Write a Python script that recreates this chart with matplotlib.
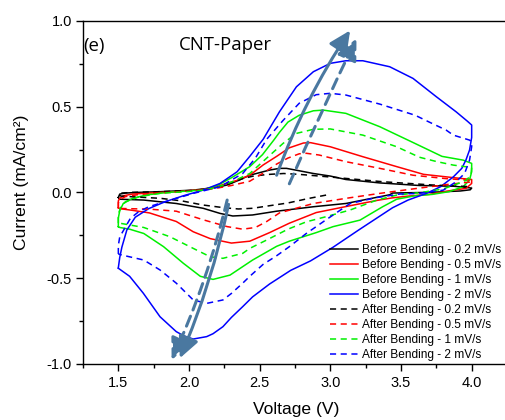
import matplotlib.pyplot as plt
from matplotlib.ticker import MultipleLocator

plt.rcParams['font.family'] = ['Liberation Sans', 'DejaVu Sans']
plt.rcParams['axes.unicode_minus'] = False

# CV loops: (voltage V, current mA/cm2)
before_02 = [(1.50, -0.03), (1.51, -0.01), (1.55, -0.004), (1.65, 0.0), (1.80, 0.004), (2.03, 0.013),
             (2.20, 0.03), (2.27, 0.043), (2.35, 0.07), (2.43, 0.10), (2.57, 0.13), (2.64, 0.14),
             (2.69, 0.14), (2.78, 0.126), (2.88, 0.11), (3.00, 0.095), (3.11, 0.075), (3.35, 0.055),
             (3.63, 0.04), (3.87, 0.036), (4.00, 0.025), (3.99, 0.015), (3.92, 0.008), (3.70, 0.0),
             (3.58, -0.002), (3.44, -0.004), (3.42, -0.014), (3.11, -0.065), (2.88, -0.084),
             (2.62, -0.11), (2.45, -0.132), (2.31, -0.138), (2.22, -0.123), (2.10, -0.093),
             (1.91, -0.065), (1.68, -0.045), (1.51, -0.04), (1.50, -0.03)]
before_05 = [(1.50, -0.09), (1.50, -0.05), (1.51, -0.035), (1.535, -0.02), (1.60, -0.01), (1.72, -0.004),
             (1.91, 0.004), (2.10, 0.017), (2.20, 0.035), (2.34, 0.07), (2.43, 0.10), (2.525, 0.16),
             (2.62, 0.21), (2.71, 0.26), (2.81, 0.288), (2.86, 0.29), (3.00, 0.266), (3.23, 0.208),
             (3.47, 0.15), (3.66, 0.105), (3.88, 0.085), (4.00, 0.075), (4.00, 0.052), (3.96, 0.023),
             (3.87, 0.013), (3.70, -0.012), (3.55, -0.022), (3.44, -0.032), (3.33, -0.047),
             (3.14, -0.078), (2.90, -0.118), (2.71, -0.18), (2.57, -0.235), (2.43, -0.285),
             (2.30, -0.296), (2.15, -0.27), (2.03, -0.23), (1.91, -0.17), (1.72, -0.12),
             (1.60, -0.105), (1.51, -0.095), (1.50, -0.09)]
before_1 = [(1.50, -0.20), (1.50, -0.15), (1.51, -0.107), (1.535, -0.065), (1.60, -0.035), (1.70, -0.015),
            (1.85, 0.0), (2.00, 0.008), (2.10, 0.015), (2.20, 0.04), (2.30, 0.085), (2.43, 0.15),
            (2.52, 0.22), (2.60, 0.305), (2.64, 0.35), (2.70, 0.41), (2.78, 0.45), (2.88, 0.476),
            (2.95, 0.48), (3.11, 0.461), (3.35, 0.383), (3.60, 0.285), (3.79, 0.21), (3.94, 0.188),
            (4.00, 0.169), (4.00, 0.12), (3.985, 0.072), (3.94, 0.033), (3.84, 0.004), (3.72, -0.012),
            (3.60, -0.02), (3.47, -0.04), (3.37, -0.084), (3.21, -0.162), (3.02, -0.20),
            (2.90, -0.235), (2.71, -0.285), (2.62, -0.315), (2.45, -0.395), (2.29, -0.483),
            (2.17, -0.508), (2.08, -0.49), (1.96, -0.414), (1.82, -0.317), (1.68, -0.24),
            (1.58, -0.215), (1.51, -0.205), (1.50, -0.20)]
before_2 = [(1.50, -0.44), (1.51, -0.38), (1.525, -0.32), (1.56, -0.22), (1.62, -0.145), (1.715, -0.095),
            (1.83, -0.055), (1.96, -0.02), (2.10, 0.013), (2.22, 0.052), (2.34, 0.12), (2.43, 0.21),
            (2.525, 0.31), (2.64, 0.47), (2.76, 0.616), (2.88, 0.704), (3.00, 0.753), (3.11, 0.768),
            (3.23, 0.768), (3.42, 0.733), (3.585, 0.665), (3.75, 0.558), (3.89, 0.47), (3.97, 0.415),
            (4.00, 0.393), (4.00, 0.32), (3.985, 0.247), (3.96, 0.19), (3.93, 0.14), (3.87, 0.09),
            (3.78, 0.033), (3.68, -0.006), (3.55, -0.045), (3.44, -0.09), (3.32, -0.155),
            (3.20, -0.22), (3.02, -0.32), (2.86, -0.40), (2.72, -0.455), (2.57, -0.535),
            (2.45, -0.61), (2.38, -0.667), (2.30, -0.73), (2.24, -0.784), (2.17, -0.825),
            (2.125, -0.842), (2.03, -0.856), (1.97, -0.84), (1.91, -0.813), (1.795, -0.726),
            (1.677, -0.589), (1.58, -0.49), (1.50, -0.443)]
after_02 = [(2.97, -0.016), (2.85, -0.035), (2.70, -0.062), (2.57, -0.078), (2.45, -0.093), (2.35, -0.097),
            (2.25, -0.09), (2.10, -0.074), (1.95, -0.05), (1.80, -0.035), (1.65, -0.028), (1.52, -0.022),
            (1.50, -0.015), (1.51, -0.005), (1.60, 0.0), (1.80, 0.004), (2.00, 0.01), (2.15, 0.02),
            (2.22, 0.033), (2.30, 0.055), (2.38, 0.08), (2.45, 0.094), (2.55, 0.104), (2.67, 0.11),
            (2.78, 0.105), (3.02, 0.088), (3.37, 0.062), (3.72, 0.043), (4.00, 0.033)]
after_05 = [(1.50, -0.09), (1.50, -0.06), (1.515, -0.04), (1.55, -0.025), (1.65, -0.012), (1.80, -0.003),
            (2.00, 0.007), (2.20, 0.025), (2.30, 0.04), (2.43, 0.065), (2.52, 0.11), (2.62, 0.165),
            (2.70, 0.20), (2.78, 0.225), (2.83, 0.228), (2.92, 0.218), (3.11, 0.179), (3.35, 0.14),
            (3.585, 0.10), (3.82, 0.08), (4.00, 0.07), (3.985, 0.06), (3.82, 0.045), (3.585, 0.02),
            (3.35, -0.006), (3.11, -0.035), (2.88, -0.065), (2.64, -0.12), (2.55, -0.17),
            (2.47, -0.205), (2.38, -0.215), (2.27, -0.20), (2.10, -0.16), (1.91, -0.11),
            (1.72, -0.098), (1.51, -0.094), (1.50, -0.09)]
after_1 = [(1.50, -0.18), (1.50, -0.13), (1.515, -0.09), (1.55, -0.055), (1.65, -0.025), (1.80, -0.005),
           (2.00, 0.005), (2.10, 0.013), (2.20, 0.03), (2.30, 0.06), (2.43, 0.11), (2.55, 0.20),
           (2.666, 0.286), (2.76, 0.344), (2.88, 0.368), (3.00, 0.37), (3.23, 0.334), (3.47, 0.266),
           (3.63, 0.205), (3.75, 0.18), (3.87, 0.159), (4.00, 0.145), (3.995, 0.10), (3.96, 0.07),
           (3.915, 0.055), (3.80, 0.02), (3.65, 0.0), (3.47, -0.016), (3.33, -0.045), (3.14, -0.103),
           (2.97, -0.142), (2.83, -0.172), (2.70, -0.215), (2.55, -0.278), (2.43, -0.327),
           (2.38, -0.356), (2.24, -0.385), (2.15, -0.376), (2.03, -0.327), (1.865, -0.259),
           (1.68, -0.205), (1.51, -0.18), (1.50, -0.18)]
after_2 = [(1.50, -0.36), (1.50, -0.31), (1.51, -0.26), (1.538, -0.22), (1.585, -0.152), (1.644, -0.113),
           (1.715, -0.084), (1.81, -0.06), (2.03, -0.006), (2.22, 0.033), (2.38, 0.11), (2.47, 0.20),
           (2.55, 0.31), (2.666, 0.42), (2.78, 0.52), (2.90, 0.57), (3.00, 0.578), (3.11, 0.568),
           (3.35, 0.515), (3.60, 0.45), (3.70, 0.41), (3.82, 0.363), (3.87, 0.334), (3.985, 0.305),
           (4.00, 0.295), (4.00, 0.266), (3.985, 0.188), (3.95, 0.11), (3.89, 0.062), (3.80, 0.013),
           (3.63, -0.006), (3.49, -0.01), (3.33, -0.03), (3.14, -0.065), (2.97, -0.16),
           (2.83, -0.24), (2.71, -0.317), (2.62, -0.37), (2.525, -0.42), (2.43, -0.49),
           (2.38, -0.53), (2.30, -0.59), (2.24, -0.628), (2.125, -0.648), (2.03, -0.628),
           (1.91, -0.53), (1.795, -0.453), (1.68, -0.395), (1.60, -0.38), (1.526, -0.366),
           (1.50, -0.36)]

curves = [
    ('Before Bending - 0.2 mV/s', before_02, 'black', '-'),
    ('Before Bending - 0.5 mV/s', before_05, '#ff0000', '-'),
    ('Before Bending - 1 mV/s', before_1, '#00f000', '-'),
    ('Before Bending - 2 mV/s', before_2, '#0000ff', '-'),
    ('After Bending - 0.2 mV/s', after_02, 'black', '--'),
    ('After Bending - 0.5 mV/s', after_05, '#ff0000', '--'),
    ('After Bending - 1 mV/s', after_1, '#00f000', '--'),
    ('After Bending - 2 mV/s', after_2, '#0000ff', '--'),
]

# trend arrows (start, end, linestyle, curvature)
arrows = [
    ((2.62, 0.10), (3.14, 0.945), '-', -0.06),
    ((2.71, 0.05), (3.185, 0.898), '--', -0.01),
    ((2.28, -0.07), (1.935, -0.968), '-', -0.05),
    ((2.27, -0.045), (1.877, -0.978), '--', -0.05),
]
arrow_color = '#4a78a0'

fig = plt.figure(figsize=(5.05, 4.2), dpi=100)
ax = fig.add_axes([83 / 505, (420 - 363.7) / 420, 424 / 505, 342.7 / 420])

for label, pts, color, ls in curves:
    v = [p[0] for p in pts]
    i = [p[1] for p in pts]
    if ls == '--':
        ax.plot(v, i, color=color, lw=1.1, ls=(0, (4, 3)), label=label)
    else:
        ax.plot(v, i, color=color, lw=1.1, label=label)

for start, end, ls, rad in arrows:
    style = '-' if ls == '-' else (0, (3.5, 2.2))
    ax.annotate('', xy=end, xytext=start,
                arrowprops=dict(arrowstyle='-|>,head_length=1.3,head_width=0.62',
                                color=arrow_color, lw=2.2, linestyle=style,
                                connectionstyle='arc3,rad=%s' % rad,
                                shrinkA=0, shrinkB=0))

ax.set_xlim(1.25, 4.25)
ax.set_ylim(-1.0, 1.0)
ax.xaxis.set_major_locator(MultipleLocator(0.5))
ax.xaxis.set_minor_locator(MultipleLocator(0.25))
ax.yaxis.set_major_locator(MultipleLocator(0.5))
ax.yaxis.set_minor_locator(MultipleLocator(0.25))
ax.tick_params(which='both', direction='out', width=1.0, labelsize=10.5)
ax.tick_params(which='major', length=5)
ax.tick_params(which='minor', length=3)
ax.tick_params(axis='x', pad=3.5)
ax.tick_params(axis='y', pad=3)
for s in ax.spines.values():
    s.set_linewidth(1.0)

ax.text(0.502, -0.1336, 'Voltage (V)', transform=ax.transAxes, ha='center', va='center', fontsize=12.6)
ax.text(-0.146, 0.529, 'Current (mA/cm²)', transform=ax.transAxes, ha='center', va='center',
        rotation=90, fontsize=12.6)

fig.text(83 / 505, 1 - 50.5 / 420, '(e)', fontfamily='Open Sans', fontsize=13.4, va='baseline')
fig.text(179 / 505, 1 - 50.5 / 420, 'CNT-Paper', fontfamily='Open Sans', fontsize=13.4, va='baseline')

ax.legend(loc='upper left', bbox_to_anchor=(330 / 505, 1 - 244.5 / 420), bbox_transform=fig.transFigure,
          frameon=False, fontsize=8.6, handlelength=2.35, handletextpad=0.3, labelspacing=0.25,
          borderpad=0, borderaxespad=0)

fig.savefig('out.png', dpi=100)
